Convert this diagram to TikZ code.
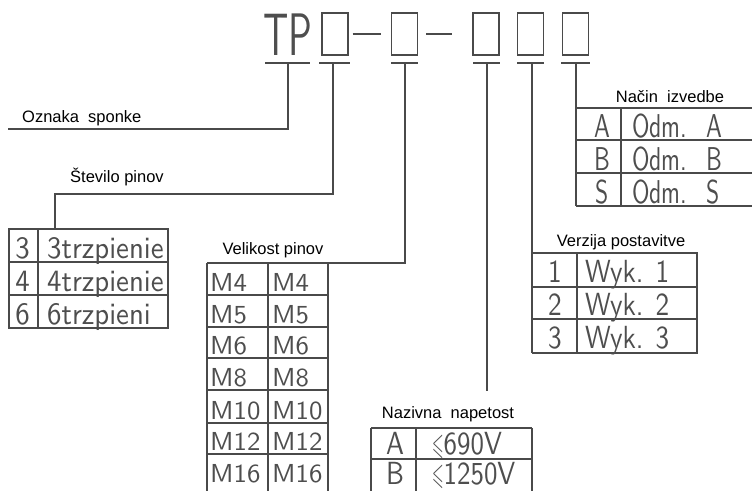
\documentclass[tikz,border=0pt]{standalone}
\usepackage{fontspec}
\usepackage{amssymb}
\usepackage{graphicx}
\setmainfont{Liberation Sans}
\newfontfamily\cad{lmsans10-regular.otf}
\definecolor{linecol}{HTML}{4A4A4A}
\definecolor{txtcol}{HTML}{4E4E4E}
% condensed CAD-like text: #1 = horizontal scale, #2 = size, #3 = text
\newcommand\ctx[3]{\scalebox{#1}[1]{\cad\fontsize{#2}{#2}\selectfont #3}}
\newcommand\stv[1]{\ctx{0.93}{31}{#1}}
\newcommand\vel[1]{\ctx{1.03}{26}{#1}}
\newcommand\naz[1]{\ctx{0.84}{32}{#1}}
\newcommand\ver[1]{\ctx{0.85}{32}{#1}}
\newcommand\nac[1]{\ctx{0.72}{33}{#1}}
\newcommand\lesl{\scalebox{0.55}[0.95]{$\leqslant$}}
\tikzset{
  ln/.style={draw=linecol, line width=1.1pt},
  phbox/.style={draw=linecol, line width=1.1pt, minimum width=26pt, minimum height=42pt, inner sep=0},
  cadc/.style={text=txtcol, inner sep=0, anchor=base},
  cadl/.style={text=txtcol, inner sep=0, anchor=base west},
  lbl/.style={font=\fontsize{16.5}{16.5}\selectfont, text=black, inner sep=0},
}
\begin{document}
\begin{tikzpicture}[x=1pt,y=-1pt]
\useasboundingbox[fill=white] (0,0) rectangle (752,491);
% ---------- header ----------
\node[anchor=base west, inner sep=0, text=txtcol] (tp) at (263,55) {\ctx{0.62}{60}{TP}};
\node[phbox] (b1) at (335,34) {};
\node[phbox] (b2) at (404.5,34) {};
\node[phbox] (b3) at (486,34) {};
\node[phbox] (b4) at (530.5,34) {};
\node[phbox] (b5) at (575.5,34) {};
\draw[ln] ([xshift=4pt]b1.east) -- ([xshift=-10pt]b2.west);
\draw[ln] ([xshift=8pt]b2.east) -- ([xshift=-20pt]b3.west);
% tick bars
\draw[ln] (265,63) -- (310,63);
\draw[ln] (319,63) -- (350,63);
\draw[ln] (391,63) -- (418,63);
\draw[ln] (473,63) -- (500,63);
\draw[ln] (517,63) -- (544,63);
\draw[ln] (561,63) -- (590,63);
\coordinate (s1) at (288,63);
\coordinate (s2) at (333,63);
\coordinate (s3) at (405,63);
\coordinate (s4) at (487,63);
\coordinate (s5) at (532,63);
\coordinate (s6) at (576,63);
% ---------- Oznaka sponke ----------
\coordinate (ozend) at (8,129);
\draw[ln] (s1) |- (ozend);
\node[lbl, anchor=west] (oz) at (22,118) {Oznaka\ \ sponke};
% ---------- Stevilo pinov ----------
\coordinate (stc) at (55,194);
\coordinate (sttop) at (55,229);
\draw[ln] (s2) |- (stc) -- (sttop);
\node[lbl] (stl) at (117,177) {Število pinov};
\draw[ln] (9,229) rectangle (168,328);
\draw[ln] (38,229) -- (38,328);
\draw[ln] (9,262) -- (168,262);
\draw[ln] (9,295) -- (168,295);
\node[cadc] (st1a) at (22.5,258) {\stv{3}};
\node[cadl] (st1b) at (47,258) {\stv{3trzpienie}};
\node[cadc] (st2a) at (22.5,291) {\stv{4}};
\node[cadl] (st2b) at (47,291) {\stv{4trzpienie}};
\node[cadc] (st3a) at (22.5,324) {\stv{6}};
\node[cadl] (st3b) at (47,324) {\stv{6trzpieni}};
% ---------- Velikost pinov ----------
\coordinate (vtop) at (207,263);
\draw[ln] (s3) |- (vtop);
\node[lbl] (vl) at (273,250) {Velikost pinov};
\draw[ln] (207,263) -- (207,491);
\draw[ln] (268,263) -- (268,491);
\draw[ln] (328,263) -- (328,491);
\foreach \yy in {295,327,358,390,423,454} {\draw[ln] (207,\yy) -- (328,\yy);}
\foreach \yy/\tt [count=\i] in {291/M4,323/M5,354/M6,386/M8,419/M10,450/M12,482/M16} {
  \node[cadl] (va\i) at (210,\yy) {\vel{\tt}};
  \node[cadl] (vb\i) at (272,\yy) {\vel{\tt}};
}
% ---------- Nazivna napetost ----------
\coordinate (nend) at (487,391);
\draw[ln] (s4) -- (nend);
\node[lbl] (nl) at (448,414) {Nazivna\ \ napetost};
\draw[ln] (371,428) -- (532,428);
\draw[ln] (371,459) -- (532,459);
\draw[ln] (371,428) -- (371,491);
\draw[ln] (416,428) -- (416,491);
\draw[ln] (532,428) -- (532,491);
\node[cadc] (n1a) at (395,454) {\naz{A}};
\node[cadl] (n1b) at (432,454) {\naz{\lesl690V}};
\node[cadc] (n2a) at (395,484) {\naz{B}};
\node[cadl] (n2b) at (432,484) {\naz{\lesl1250V}};
% ---------- Verzija postavitve ----------
\coordinate (vzb) at (532,353);
\draw[ln] (s5) -- (vzb);
\node[lbl] (vzl) at (621,242) {Verzija postavitve};
\draw[ln] (532,253) -- (697,253) -- (697,353) -- (532,353);
\draw[ln] (577,253) -- (577,353);
\draw[ln] (532,287) -- (697,287);
\draw[ln] (532,319) -- (697,319);
\node[cadc] (vz1a) at (555,282) {\ver{1}};
\node[cadl] (vz1b) at (585,282) {\ver{Wyk. 1}};
\node[cadc] (vz2a) at (555,315) {\ver{2}};
\node[cadl] (vz2b) at (585,315) {\ver{Wyk. 2}};
\node[cadc] (vz3a) at (555,348) {\ver{3}};
\node[cadl] (vz3b) at (585,348) {\ver{Wyk. 3}};
% ---------- Nacin izvedbe ----------
\coordinate (nib) at (576,206);
\draw[ln] (s6) -- (nib);
\node[lbl] (nil) at (670,97) {Način\ \ izvedbe};
\draw[ln] (576,108) -- (752,108);
\draw[ln] (576,140) -- (752,140);
\draw[ln] (576,173) -- (752,173);
\draw[ln] (576,206) -- (752,206);
\draw[ln] (621,108) -- (621,206);
\node[cadc] (ni1a) at (602,137) {\nac{A}};
\node[cadl] (ni1b) at (632,137) {\nac{Odm.\hspace{0.8em}A}};
\node[cadc] (ni2a) at (602,170) {\nac{B}};
\node[cadl] (ni2b) at (632,170) {\nac{Odm.\hspace{0.8em}B}};
\node[cadc] (ni3a) at (602,203) {\nac{S}};
\node[cadl] (ni3b) at (632,203) {\nac{Odm.\hspace{0.8em}S}};
\end{tikzpicture}
\end{document}
